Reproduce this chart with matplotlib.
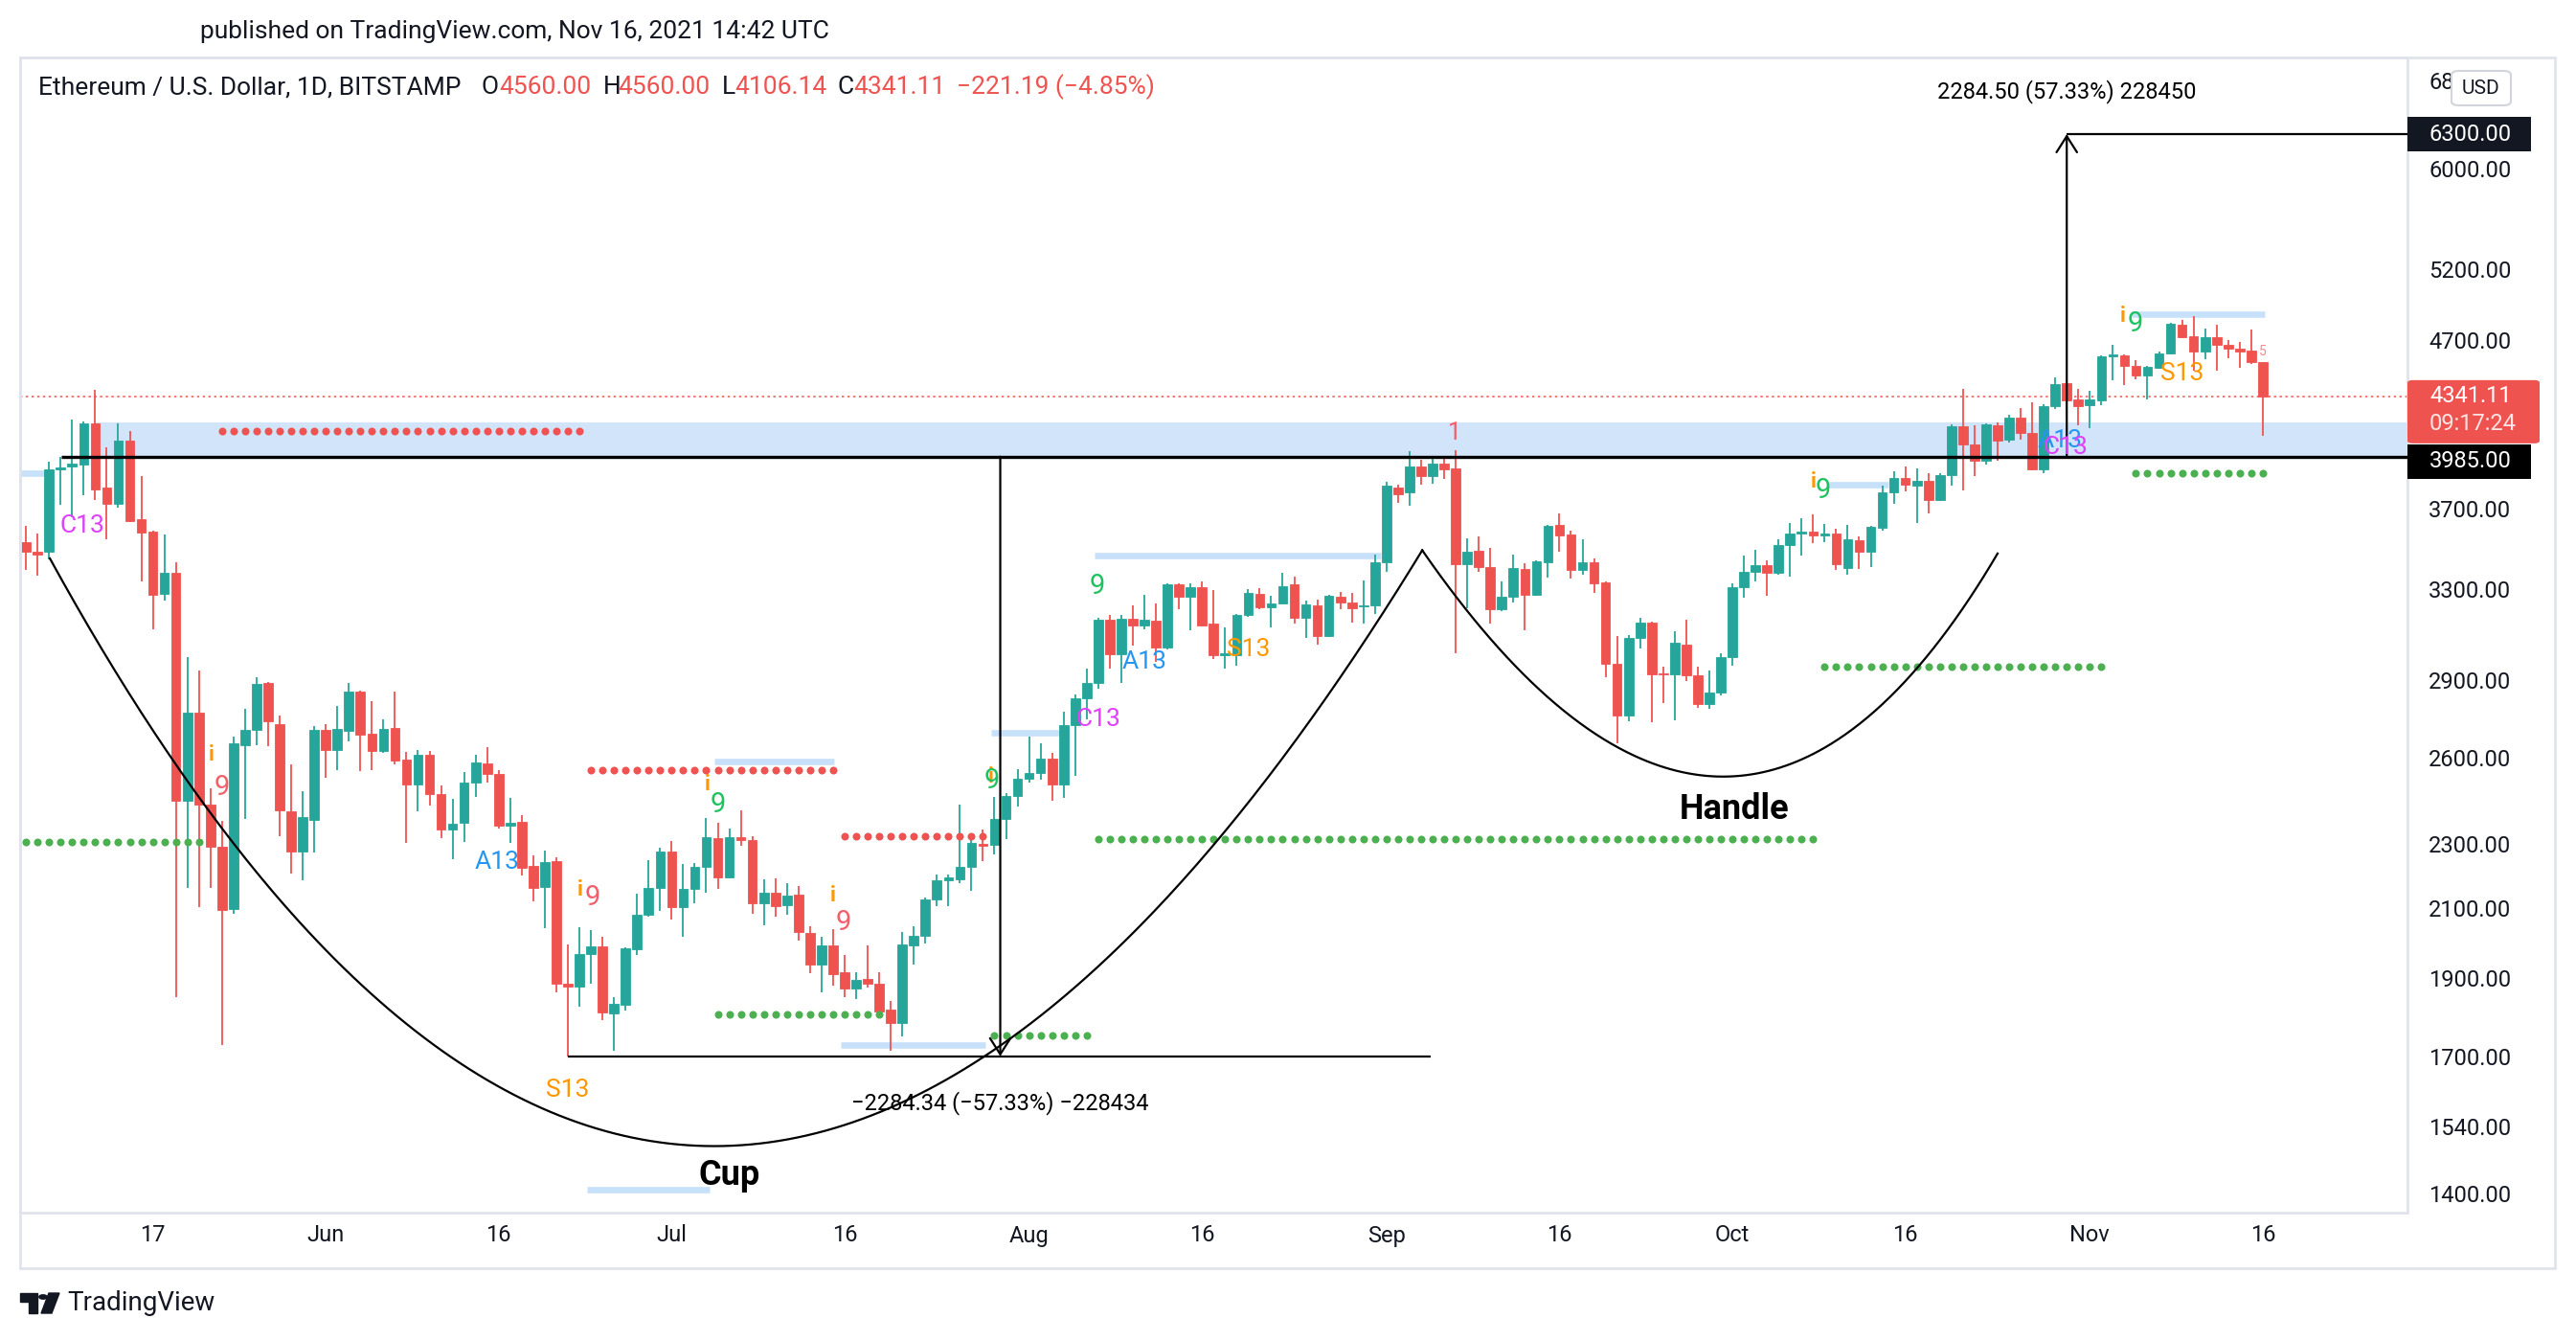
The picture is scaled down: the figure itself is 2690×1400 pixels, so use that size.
import numpy as np
import pandas as pd
import matplotlib
matplotlib.use("Agg")
import matplotlib.pyplot as plt
from matplotlib.patches import Rectangle, FancyBboxPatch, Circle, Polygon
from matplotlib.ticker import FixedLocator, FixedFormatter, NullLocator

plt.rcParams["font.family"] = ["Roboto", "DejaVu Sans"]

W, H = 2690, 1400
UP = "#26a69a"
DOWN = "#ef5350"
TEXT = "#131722"
BORDER = "#e0e3eb"

# daily candles, ETH/USD Bitstamp, 6 May - 16 Nov 2021
DATES = pd.date_range("2021-05-06", "2021-11-16", freq="D")
OPEN = [3530, 3482, 3482, 3914, 3928, 3941, 4180, 3815, 3727, 4077,
        3645, 3583, 3280, 3378, 2443, 2769, 2432, 2290, 2097, 2647,
        2705, 2888, 2727, 2409, 2275, 2380, 2702, 2629, 2700, 2855,
        2688, 2624, 2710, 2591, 2502, 2611, 2468, 2348, 2370, 2508,
        2577, 2539, 2361, 2372, 2228, 2164, 2244, 1886, 1878, 1966,
        1987, 1807, 1830, 1981, 2080, 2161, 2275, 2103, 2156, 2226,
        2319, 2193, 2322, 2311, 2113, 2146, 2108, 2139, 2027, 1937,
        1990, 1917, 1873, 1897, 1885, 1818, 1784, 1990, 2019, 2125,
        2183, 2188, 2226, 2300, 2295, 2383, 2462, 2521, 2544, 2594,
        2502, 2721, 2826, 2888, 3163, 3010, 3166, 3137, 3157, 3039,
        3325, 3266, 3313, 3144, 3005, 3008, 3182, 3279, 3218, 3236,
        3325, 3170, 3226, 3090, 3266, 3240, 3222, 3226, 3428, 3815,
        3790, 3930, 3879, 3946, 3919, 3420, 3485, 3408, 3207, 3266,
        3397, 3276, 3431, 3615, 3566, 3393, 3428, 3333, 2971, 2760,
        3081, 3150, 2930, 2925, 3050, 2920, 2803, 2850, 2998, 3309,
        3385, 3416, 3381, 3514, 3571, 3585, 3563, 3571, 3403, 3537,
        3481, 3604, 3788, 3865, 3827, 3848, 3748, 3880, 4161, 4054,
        3964, 4168, 4080, 4214, 4123, 3914, 4283, 4422, 4325, 4287,
        4318, 4596, 4603, 4535, 4474, 4521, 4615, 4805, 4729, 4628,
        4719, 4669, 4648, 4636, 4560]
HIGH = [3614, 3573, 3956, 3985, 4199, 4188, 4384, 4037, 4178, 4133,
        3878, 3587, 3566, 3430, 2998, 2942, 2488, 2377, 2679, 2786,
        2913, 2895, 2760, 2574, 2478, 2717, 2727, 2798, 2891, 2860,
        2817, 2744, 2855, 2620, 2629, 2623, 2498, 2451, 2548, 2609,
        2637, 2554, 2456, 2395, 2262, 2278, 2257, 1993, 2042, 2034,
        2015, 1849, 1985, 2141, 2246, 2286, 2309, 2236, 2238, 2386,
        2370, 2350, 2410, 2324, 2188, 2191, 2175, 2166, 2046, 2014,
        2036, 1965, 1917, 1990, 1917, 1839, 2028, 2046, 2130, 2201,
        2201, 2432, 2314, 2347, 2457, 2473, 2556, 2679, 2651, 2617,
        2774, 2842, 2949, 3170, 3184, 3184, 3228, 3276, 3237, 3328,
        3331, 3328, 3340, 3296, 3126, 3188, 3301, 3306, 3270, 3381,
        3360, 3250, 3253, 3276, 3287, 3283, 3343, 3470, 3843, 3832,
        4016, 3965, 3980, 3975, 4020, 3549, 3557, 3499, 3339, 3470,
        3424, 3440, 3615, 3676, 3590, 3542, 3451, 3339, 3087, 3094,
        3172, 3154, 2959, 3109, 3163, 2959, 2941, 3013, 3328, 3465,
        3490, 3440, 3542, 3625, 3652, 3670, 3621, 3598, 3617, 3557,
        3610, 3824, 3902, 3929, 3917, 3895, 3892, 4170, 4385, 4167,
        4180, 4185, 4230, 4270, 4306, 4292, 4458, 4432, 4389, 4378,
        4600, 4670, 4607, 4570, 4535, 4627, 4821, 4837, 4863, 4779,
        4805, 4705, 4690, 4773, 4560]
LOW = [3394, 3365, 3443, 3722, 3656, 3774, 3749, 3545, 3709, 3631,
       3339, 3118, 3250, 1849, 2159, 2103, 2159, 1729, 2083, 2383,
       2647, 2642, 2326, 2205, 2183, 2272, 2527, 2552, 2661, 2549,
       2552, 2617, 2574, 2303, 2407, 2428, 2317, 2251, 2306, 2459,
       2507, 2350, 2303, 2200, 2120, 2040, 1863, 1700, 1824, 1884,
       1791, 1715, 1815, 1963, 2075, 2090, 2064, 2015, 2113, 2144,
       2158, 2190, 2294, 2083, 2049, 2075, 2080, 2004, 1914, 1863,
       1880, 1849, 1845, 1876, 1807, 1715, 1749, 1937, 1996, 2105,
       2106, 2175, 2150, 2244, 2266, 2316, 2425, 2509, 2519, 2443,
       2456, 2533, 2744, 2867, 2949, 2891, 3049, 3118, 2979, 3032,
       3207, 3116, 3131, 2990, 2949, 2960, 3175, 3211, 3126, 3231,
       3144, 3081, 3051, 3085, 3211, 3149, 3144, 3188, 3385, 3734,
       3716, 3829, 3836, 3861, 3016, 3212, 3385, 3146, 3200, 3238,
       3116, 3269, 3358, 3482, 3351, 3370, 3283, 2913, 2651, 2738,
       3035, 2733, 2808, 2740, 2897, 2790, 2787, 2840, 2962, 3263,
       3339, 3269, 3370, 3360, 3465, 3525, 3531, 3394, 3370, 3398,
       3407, 3587, 3727, 3791, 3626, 3676, 3740, 3826, 3800, 3878,
       3941, 3964, 4068, 4082, 3911, 3895, 4264, 4225, 4167, 4152,
       4287, 4443, 4412, 4449, 4325, 4515, 4611, 4713, 4505, 4574,
       4505, 4580, 4521, 4545, 4106.14]
CLOSE = [3482, 3470, 3914, 3925, 3945, 4180, 3804, 3727, 4077, 3637,
         3579, 3276, 3378, 2443, 2769, 2432, 2290, 2094, 2651, 2702,
         2886, 2738, 2410, 2275, 2389, 2702, 2629, 2707, 2855, 2686,
         2624, 2707, 2589, 2502, 2611, 2468, 2348, 2367, 2508, 2582,
         2541, 2361, 2370, 2224, 2161, 2241, 1884, 1878, 1967, 1987,
         1810, 1831, 1982, 2080, 2161, 2275, 2103, 2156, 2226, 2322,
         2193, 2322, 2313, 2113, 2146, 2106, 2137, 2029, 1937, 1990,
         1912, 1873, 1895, 1886, 1813, 1784, 1993, 2019, 2125, 2183,
         2192, 2226, 2303, 2294, 2383, 2462, 2521, 2544, 2597, 2502,
         2721, 2826, 2888, 3163, 3010, 3166, 3137, 3160, 3039, 3325,
         3266, 3313, 3137, 3005, 3013, 3182, 3283, 3218, 3236, 3315,
         3170, 3231, 3090, 3272, 3240, 3215, 3228, 3431, 3826, 3777,
         3930, 3879, 3948, 3916, 3420, 3480, 3406, 3207, 3266, 3401,
         3276, 3434, 3610, 3562, 3393, 3431, 3328, 2971, 2760, 3081,
         3150, 2925, 2925, 3060, 2920, 2803, 2850, 2998, 3309, 3385,
         3416, 3381, 3515, 3571, 3585, 3561, 3571, 3420, 3542, 3481,
         3607, 3788, 3865, 3830, 3848, 3745, 3880, 4161, 4054, 3964,
         4174, 4077, 4214, 4123, 3914, 4283, 4416, 4318, 4283, 4322,
         4596, 4607, 4535, 4474, 4527, 4615, 4811, 4725, 4628, 4725,
         4669, 4648, 4627, 4557, 4341.11]

PRICE_TICKS = [6800, 6000, 5200, 4700, 3700, 3300, 2900, 2600, 2300,
               2100, 1900, 1700, 1540, 1400]
DATE_TICKS = ["2021-05-17", "2021-06-01", "2021-06-16", "2021-07-01",
              "2021-07-16", "2021-08-01", "2021-08-16", "2021-09-01",
              "2021-09-16", "2021-10-01", "2021-10-16", "2021-11-01",
              "2021-11-16"]
DATE_LABELS = ["17", "Jun", "16", "Jul", "16", "Aug", "16", "Sep", "16",
               "Oct", "16", "Nov", "16"]

LEVEL = 3985.0
ZONE_TOP = 4183
LAST = 4341.11
TARGET = 6300.0
CUP_LOW = 1700.66

# TD sequential lines: (first day, last day, price)
RED_DOTS = [(17, 48, 4134), (49, 70, 2554), (71, 83, 2324)]
GREEN_DOTS = [(0, 15, 2306), (60, 74, 1806), (84, 92, 1751),
              (93, 155, 2316), (156, 180, 2956), (183, 194, 3894)]
BLUE_BARS = [(-0.4, 1.7, 3891), (48.7, 59.3, 1408), (59.7, 70.1, 2585),
             (70.7, 83.2, 1729), (83.7, 89.6, 2692), (92.7, 117.5, 3465),
             (156.1, 161.5, 3830), (182.6, 194.2, 4877)]

ORANGE = "#ff9800"
GREEN9 = "#1fc160"
RED9 = "#f0606a"
BLUE13 = "#2196f3"
MAG13 = "#e040fb"
# (day, price, text, color, size, bold)
TD_LABELS = [
    (4.9, 3612, "C13", MAG13, 19, False),
    (16.1, 2611, "i", ORANGE, 16, True),
    (17.0, 2490, "9", RED9, 21, False),
    (40.9, 2241, "A13", BLUE13, 19, False),
    (48.1, 2155, "i", ORANGE, 16, True),
    (49.1, 2132, "9", RED9, 21, False),
    (47.0, 1622, "S13", ORANGE, 19, False),
    (59.1, 2502, "i", ORANGE, 16, True),
    (60.0, 2432, "9", GREEN9, 21, False),
    (70.0, 2138, "i", ORANGE, 16, True),
    (70.9, 2056, "9", RED9, 21, False),
    (83.7, 2530, "i", ORANGE, 16, True),
    (83.8, 2516, "9", GREEN9, 21, False),
    (92.9, 3316, "9", GREEN9, 21, False),
    (97.0, 2979, "A13", BLUE13, 19, False),
    (93.0, 2744, "C13", MAG13, 19, False),
    (106.0, 3030, "S13", ORANGE, 19, False),
    (123.9, 4123, "1", RED9, 18, False),
    (155.0, 3844, "i", ORANGE, 16, True),
    (155.9, 3800, "9", GREEN9, 21, False),
    (176.4, 4077, "A13", BLUE13, 19, False),
    (176.9, 4040, "C13", MAG13, 19, False),
    (181.9, 4864, "i", ORANGE, 16, True),
    (182.9, 4814, "9", GREEN9, 21, False),
    (187.0, 4486, "S13", ORANGE, 19, False),
    (194.0, 4628, "5", "#f78a8a", 10, False),
]

# hand drawn pattern: start, bottom, end as (day, price)
CUP = [(2.07, 3449), (59.9, 1497), (121.1, 3489)]
HANDLE = [(121.1, 3489), (147.1, 2530), (171.0, 3473)]


def fx(px):
    return px / W


def fy(py):
    return 1 - py / H


def curve_through(points, n=300):
    # quadratic bezier in (day, log price) space passing through the middle point
    p = np.array([[d, np.log10(v)] for d, v in points])
    ctrl = 2 * p[1] - (p[0] + p[2]) / 2
    t = np.linspace(0, 1, n)[:, None]
    b = (1 - t) ** 2 * p[0] + 2 * t * (1 - t) * ctrl + t ** 2 * p[2]
    return b[:, 0], 10 ** b[:, 1]


def main():
    fig = plt.figure(figsize=(W / 100, H / 100), dpi=100)
    fig.patch.set_facecolor("white")
    ax = fig.add_axes([fx(21), fy(1266), (2514 - 21) / W, (1266 - 60) / H])
    ax.set_yscale("log")
    right = 206.55
    ax.set_xlim(-0.51, right)
    ax.set_ylim(1362, 7025)

    # resistance zone and levels
    ax.fill_between([6, right], LEVEL, ZONE_TOP, color="#d1e4fa", lw=0, zorder=0.5)
    ax.axhline(LAST, color=DOWN, lw=1.1, linestyle=(0, (1.6, 2.3)), zorder=1)
    ax.hlines(LEVEL, 3.1, right, color="black", lw=2.4, zorder=3)

    for x0, x1, p in BLUE_BARS:
        ax.hlines(p, x0, x1, color="#c8e1fb", lw=4.8, zorder=1.2)

    # candles
    x = np.arange(len(DATES))
    o, h, l, c = (np.array(v, float) for v in (OPEN, HIGH, LOW, CLOSE))
    colors = np.where(c >= o, UP, DOWN)
    ax.vlines(x, l, h, colors=colors, lw=1.3, zorder=2)
    ax.bar(x, np.abs(c - o), bottom=np.minimum(o, c), width=0.8, color=colors,
           edgecolor=colors, linewidth=0.6, zorder=2.1)

    for d0, d1, p in RED_DOTS:
        days = np.arange(d0, d1 + 1)
        ax.plot(days, np.full(len(days), p), "o", ms=5.8, color="#f05252", mew=0, zorder=2.5)
    for d0, d1, p in GREEN_DOTS:
        days = np.arange(d0, d1 + 1)
        ax.plot(days, np.full(len(days), p), "o", ms=5.8, color="#4caf50", mew=0, zorder=2.5)

    for d, p, s, col, size, bold in TD_LABELS:
        ax.text(d, p, s, color=col, fontsize=size, ha="center", va="center",
                fontweight="bold" if bold else "normal", zorder=4)

    # cup and handle
    cx, cy = curve_through(CUP)
    ax.plot(cx, cy, color="black", lw=1.6, zorder=3)
    hx, hy = curve_through(HANDLE)
    ax.plot(hx, hy, color="black", lw=1.6, zorder=3)
    ax.text(61.0, 1437, "Cup", fontsize=26, fontweight="bold", ha="center", va="center", zorder=4)
    ax.text(148.2, 2415, "Handle", fontsize=26, fontweight="bold", ha="center", va="center", zorder=4)

    # price range measures
    arrow = dict(arrowstyle="->,head_length=0.55,head_width=0.35", color="black", lw=1.6,
                 shrinkA=0, shrinkB=0, mutation_scale=22)
    ax.annotate("", xy=(84.5, CUP_LOW), xytext=(84.5, LEVEL), arrowprops=arrow, zorder=3)
    ax.hlines(CUP_LOW, 47, 121.8, color="black", lw=1.6, zorder=3)
    ax.text(84.5, 1592, "\u22122284.34 (\u221257.33%) \u2212228434", fontsize=17,
            ha="center", va="center", zorder=4)
    ax.annotate("", xy=(177, TARGET), xytext=(177, LEVEL), arrowprops=arrow, zorder=3)
    ax.hlines(TARGET, 177, right, color="black", lw=1.6, zorder=3)
    ax.text(177, 6690, "2284.50 (57.33%) 228450", fontsize=17, ha="center", va="center", zorder=4)

    # axes styling
    ax.yaxis.tick_right()
    ax.yaxis.set_major_locator(FixedLocator(PRICE_TICKS))
    ax.yaxis.set_major_formatter(FixedFormatter([f"{t:.2f}" for t in PRICE_TICKS]))
    ax.yaxis.set_minor_locator(NullLocator())
    ax.tick_params(axis="y", which="both", length=0, pad=16, labelsize=17, labelcolor=TEXT)
    tick_days = [(pd.Timestamp(d) - DATES[0]).days for d in DATE_TICKS]
    ax.set_xticks(tick_days)
    ax.set_xticklabels(DATE_LABELS)
    ax.tick_params(axis="x", length=0, pad=9, labelsize=17, labelcolor=TEXT)
    for sp in ax.spines.values():
        sp.set_color(BORDER)
        sp.set_linewidth(2)

    fig.add_artist(Rectangle((fx(21), fy(1324)), (2668 - 21) / W, (1324 - 60) / H,
                             transform=fig.transFigure, fill=False, ec=BORDER, lw=2))

    def py(price):
        return H - ax.transData.transform((0, price))[1]

    # price labels on the axis
    y6300 = py(TARGET)
    fig.add_artist(Rectangle((fx(2514), fy(y6300 + 18)), 129 / W, 36 / H,
                             transform=fig.transFigure, color=TEXT, lw=0, zorder=5))
    fig.text(fx(2537), fy(y6300), "6300.00", color="white", fontsize=17, va="center", zorder=6)
    ylast = py(LAST)
    fig.add_artist(FancyBboxPatch((fx(2514), fy(ylast + 49)), 138 / W, 66 / H,
                                  boxstyle="round,pad=0,rounding_size=0.002",
                                  transform=fig.transFigure, color=DOWN, lw=0, zorder=5))
    fig.text(fx(2537), fy(ylast), f"{LAST:.2f}", color="white", fontsize=17, va="center", zorder=6)
    fig.text(fx(2537), fy(ylast + 29), "09:17:24", color="#fde3e3", fontsize=17, va="center", zorder=6)
    ylev = ylast + 68
    fig.add_artist(Rectangle((fx(2514), fy(ylev + 18)), 129 / W, 36 / H,
                             transform=fig.transFigure, color="black", lw=0, zorder=5))
    fig.text(fx(2537), fy(ylev), f"{LEVEL:.2f}", color="white", fontsize=17, va="center", zorder=6)

    fig.add_artist(FancyBboxPatch((fx(2560), fy(110)), 62 / W, 36 / H,
                                  boxstyle="round,pad=0,rounding_size=0.003",
                                  transform=fig.transFigure, fc="white", ec="#d1d4dc", lw=1.5, zorder=5))
    fig.text(fx(2591), fy(92), "USD", color=TEXT, fontsize=15, ha="center", va="center", zorder=6)

    # header texts
    fig.text(fx(209), fy(33), "published on TradingView.com, Nov 16, 2021 14:42 UTC",
             color=TEXT, fontsize=19, va="center")
    legend = [(40, "Ethereum / U.S. Dollar, 1D, BITSTAMP", TEXT),
              (503, "O", TEXT), (521, "4560.00", DOWN),
              (630, "H", TEXT), (645, "4560.00", DOWN),
              (754, "L", TEXT), (767, "4106.14", DOWN),
              (875, "C", TEXT), (891, "4341.11", DOWN),
              (999, "\u2212221.19 (\u22124.85%)", DOWN)]
    for px, s, col in legend:
        fig.text(fx(px), fy(91), s, color=col, fontsize=19, va="center")

    # TradingView logo
    logo = [Polygon([(fx(21), fy(1350)), (fx(39), fy(1350)), (fx(39), fy(1371)),
                     (fx(30), fy(1371)), (fx(30), fy(1359)), (fx(21), fy(1359))]),
            Circle((fx(45), fy(1354)), 4.2 / W),
            Polygon([(fx(51), fy(1350)), (fx(62), fy(1350)), (fx(54), fy(1371)), (fx(43), fy(1371))])]
    for patch in logo:
        patch.set_transform(fig.transFigure)
        patch.set_color(TEXT)
        fig.add_artist(patch)
    fig.text(fx(70), fy(1360), "TradingView", color=TEXT, fontsize=20, va="center")

    fig.savefig("out.png", dpi=100)


if __name__ == "__main__":
    main()
